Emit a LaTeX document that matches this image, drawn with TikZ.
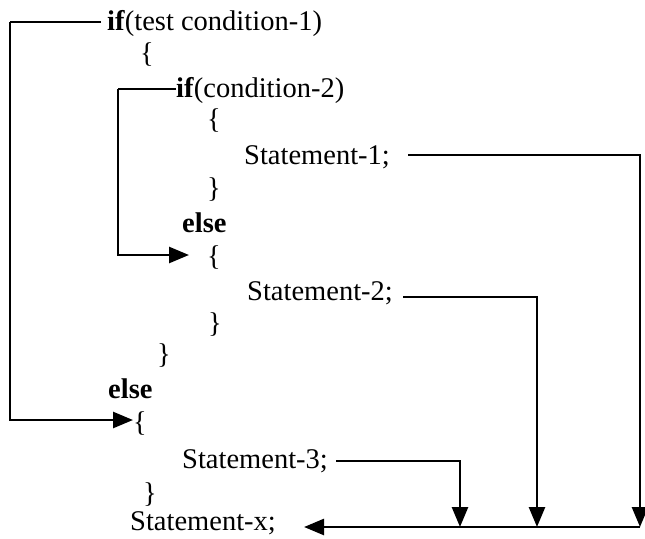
\documentclass[tikz,border=0pt]{standalone}
\usepackage{fontspec}
\setmainfont{Liberation Serif}
\usetikzlibrary{arrows.meta}
\begin{document}
\begin{tikzpicture}[x=1pt,y=-1pt,
  code/.style={anchor=base west,inner sep=0pt,font=\fontsize{28.5}{32}\selectfont},
  flow/.style={line width=2.6pt},
  flowarrow/.style={flow,-{Triangle[length=20pt,width=16pt]}}]
\useasboundingbox (0,0) rectangle (645,538);

% program text
\node[code] (if1)   at (107,30)  {\textbf{if}(test condition-1)};
\node[code] (b1)    at (140,62)  {\{};
\node[code] (if2)   at (176,97)  {\textbf{if}(condition-2)};
\node[code] (b2)    at (207,128) {\{};
\node[code] (s1)    at (244,164) {Statement-1;};
\node[code] (b3)    at (207,197) {\}};
\node[code] (else1) at (182,232) {\textbf{else}};
\node[code] (b4)    at (207,265) {\{};
\node[code] (s2)    at (247,300) {Statement-2;};
\node[code] (b5)    at (208,332) {\}};
\node[code] (b6)    at (157,363) {\}};
\node[code] (else2) at (108,398) {\textbf{else}};
\node[code] (b7)    at (133,431) {\{};
\node[code] (s3)    at (182,468) {Statement-3;};
\node[code] (b8)    at (143,502) {\}};
\node[code] (sx)    at (130,530) {Statement-x;};

% corner points of the flow lines
\coordinate (c1) at (10,22);
\coordinate (c2) at (118,89);
\coordinate (j1) at (640,527);
\coordinate (j2) at (537,527);
\coordinate (j3) at (460,527);

% outer if: false branch to the outer else
\draw[flow] (if1.west |- c1) ++(-6,0) -- (c1);
\draw[flowarrow] (c1) |- (b7.west |- 0,420);

% inner if: false branch to the inner else
\draw[flow] (if2.west |- c2) -- (c2);
\draw[flowarrow] (c2) |- ([xshift=-18pt]b4.west |- 0,255);

% every statement joins Statement-x
\draw[flowarrow] ([xshift=18pt]s1.east |- 0,155) -| (j1);
\draw[flowarrow] ([xshift=10pt]s2.east |- 0,297) -| (j2);
\draw[flowarrow] ([xshift=8pt]s3.east |- 0,461) -| (j3);
\draw[flowarrow] (j1) -- ([xshift=28pt]sx.east |- j1);
\end{tikzpicture}
\end{document}
